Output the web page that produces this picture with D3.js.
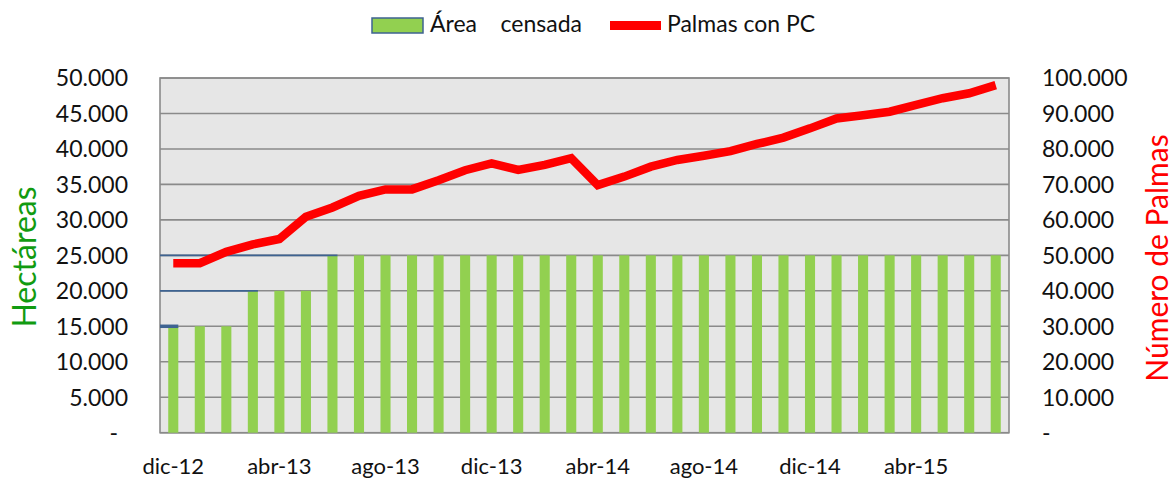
<!DOCTYPE html>
<html>
<head>
<meta charset="utf-8">
<script src="https://cdn.jsdelivr.net/npm/d3@7"></script>
<style>
  body { margin: 0; background: #fff; }
  text { font-family: Lato, "Open Sans", sans-serif; fill: #111; }
</style>
</head>
<body>
<div id="chart"></div>
<script>

// months, one per bar
var months = ["dic-12", "ene-13", "feb-13", "mar-13", "abr-13", "may-13", "jun-13", "jul-13",
  "ago-13", "sep-13", "oct-13", "nov-13", "dic-13", "ene-14", "feb-14", "mar-14",
  "abr-14", "may-14", "jun-14", "jul-14", "ago-14", "sep-14", "oct-14", "nov-14",
  "dic-14", "ene-15", "feb-15", "mar-15", "abr-15", "may-15", "jun-15", "jul-15"];

// Área censada (hectáreas)
var area = [15000, 15000, 15000, 20000, 20000, 20000, 25000, 25000,
  25000, 25000, 25000, 25000, 25000, 25000, 25000, 25000,
  25000, 25000, 25000, 25000, 25000, 25000, 25000, 25000,
  25000, 25000, 25000, 25000, 25000, 25000, 25000, 25000];

// Palmas con PC
var palmas = [47800, 47800, 51000, 53100, 54600, 60900, 63500, 66800,
  68600, 68600, 71200, 74000, 75900, 74100, 75500, 77400,
  69800, 72200, 75000, 76900, 78100, 79400, 81400, 83200,
  85800, 88600, 89500, 90500, 92400, 94300, 95700, 98000];

var leftTicks = [0, 5000, 10000, 15000, 20000, 25000, 30000, 35000, 40000, 45000, 50000];
var rightTicks = [0, 10000, 20000, 30000, 40000, 50000, 60000, 70000, 80000, 90000, 100000];
var shownMonths = ["dic-12", "abr-13", "ago-13", "dic-13", "abr-14", "ago-14", "dic-14", "abr-15"];

var W = 1176, H = 480;
var plot = { left: 160, right: 1009, top: 78, bottom: 432.7 };

var svg = d3.select("#chart")
  .append("svg")
  .attr("width", W)
  .attr("height", H);

var loc = d3.formatLocale({ decimal: ",", thousands: ".", grouping: [3], currency: ["", ""] });
var fmt = function (v) { return v === 0 ? "-" : loc.format(",")(v); };

var x = d3.scaleBand()
  .domain(months)
  .range([plot.left, plot.right])
  .paddingInner(0.62)
  .paddingOuter(0.31);

var yL = d3.scaleLinear().domain([0, 50000]).range([plot.bottom, plot.top]);
var yR = d3.scaleLinear().domain([0, 100000]).range([plot.bottom, plot.top]);

// plot background
svg.append("rect")
  .attr("x", plot.left)
  .attr("y", plot.top)
  .attr("width", plot.right - plot.left)
  .attr("height", plot.bottom - plot.top)
  .attr("fill", "#e6e6e6");

// gridlines
svg.selectAll(".grid")
  .data(leftTicks)
  .enter()
  .append("line")
  .attr("x1", plot.left)
  .attr("x2", plot.right)
  .attr("y1", function (d) { return yL(d); })
  .attr("y2", function (d) { return yL(d); })
  .attr("stroke", "#8a8a8a")
  .attr("stroke-width", 1.6);

// plot border
svg.append("rect")
  .attr("x", plot.left)
  .attr("y", plot.top)
  .attr("width", plot.right - plot.left)
  .attr("height", plot.bottom - plot.top)
  .attr("fill", "none")
  .attr("stroke", "#8a8a8a")
  .attr("stroke-width", 1.6);

// bars
svg.selectAll(".bar")
  .data(months)
  .enter()
  .append("rect")
  .attr("x", function (d) { return x(d); })
  .attr("width", x.bandwidth())
  .attr("y", function (d, i) { return yL(area[i]); })
  .attr("height", function (d, i) { return plot.bottom - yL(area[i]); })
  .attr("fill", "#92d050");

// blue marks where the area level steps up
var steps = months.filter(function (d, i) { return i === 0 || area[i] !== area[i - 1]; });
svg.selectAll(".step")
  .data(steps)
  .enter()
  .append("line")
  .attr("x1", plot.left)
  .attr("x2", function (d) { return x(d) + x.bandwidth(); })
  .attr("y1", function (d) { return yL(area[months.indexOf(d)]); })
  .attr("y2", function (d) { return yL(area[months.indexOf(d)]); })
  .attr("stroke", "#3e6391")
  .attr("stroke-width", function (d, i) { return i === 0 ? 3.5 : 1.8; });

// red line
var line = d3.line()
  .x(function (d, i) { return x(months[i]) + x.bandwidth() / 2; })
  .y(function (d) { return yR(d); });

svg.append("path")
  .datum(palmas)
  .attr("d", line)
  .attr("fill", "none")
  .attr("stroke", "#ff0000")
  .attr("stroke-width", 8.5)
  .attr("stroke-linejoin", "miter");

// left axis labels
svg.selectAll(".ltick")
  .data(leftTicks)
  .enter()
  .append("text")
  .attr("x", function (d) { return d === 0 ? 118 : 128; })
  .attr("y", function (d) { return yL(d); })
  .attr("dy", "0.36em")
  .attr("text-anchor", "end")
  .style("font-size", "23px")
  .text(fmt);

// right axis labels
svg.selectAll(".rtick")
  .data(rightTicks)
  .enter()
  .append("text")
  .attr("x", 1042)
  .attr("y", function (d) { return yR(d); })
  .attr("dy", "0.36em")
  .attr("text-anchor", "start")
  .style("font-size", "23px")
  .text(fmt);

// x labels
svg.selectAll(".xlab")
  .data(shownMonths)
  .enter()
  .append("text")
  .attr("x", function (d) { return x(d) + x.bandwidth() / 2; })
  .attr("y", 466)
  .attr("dy", "0.36em")
  .attr("text-anchor", "middle")
  .style("font-size", "22px")
  .text(function (d) { return d; });

// axis titles
svg.append("text")
  .attr("transform", "translate(24,257) rotate(-90)")
  .attr("dy", "0.36em")
  .attr("text-anchor", "middle")
  .style("font-size", "32px")
  .style("fill", "#119b11")
  .text("Hectáreas");

svg.append("text")
  .attr("transform", "translate(1157,258) rotate(-90)")
  .attr("dy", "0.36em")
  .attr("text-anchor", "middle")
  .style("font-size", "30px")
  .style("fill", "#ff0000")
  .text("Número de Palmas");

// legend
var legend = svg.append("g");
legend.append("rect")
  .attr("x", 372)
  .attr("y", 18)
  .attr("width", 51)
  .attr("height", 15)
  .attr("fill", "#92d050")
  .attr("stroke", "#3e6391")
  .attr("stroke-width", 1.5);
legend.append("text")
  .attr("x", 430)
  .attr("y", 24)
  .attr("dy", "0.36em")
  .style("font-size", "23px")
  .style("white-space", "pre")
  .text("Área    censada");
legend.append("line")
  .attr("x1", 610)
  .attr("x2", 661)
  .attr("y1", 25.5)
  .attr("y2", 25.5)
  .attr("stroke", "#ff0000")
  .attr("stroke-width", 9);
legend.append("text")
  .attr("x", 667)
  .attr("y", 24)
  .attr("dy", "0.36em")
  .style("font-size", "23px")
  .text("Palmas con PC");

</script>
</body>
</html>
